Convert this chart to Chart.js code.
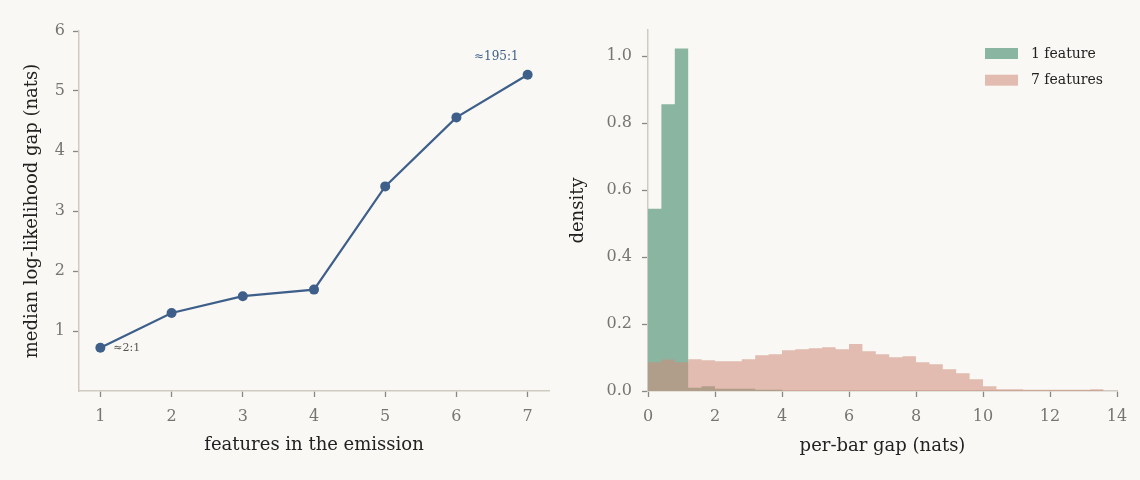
<!DOCTYPE html>
<html><head><meta charset="utf-8">
<script src="https://cdn.jsdelivr.net/npm/chart.js@4.4.0/dist/chart.umd.min.js"></script>
<style>
html,body{margin:0;padding:0;background:#f9f8f4;}
body{width:1140px;height:480px;position:relative;overflow:hidden;}
canvas{position:absolute;top:0;}
#c1{left:0;}
#c2{left:560px;}
</style></head><body>
<canvas id="c1" width="570" height="480"></canvas>
<canvas id="c2" width="580" height="480"></canvas>
<script>
// ---- left panel data ----
const features = [1, 2, 3, 4, 5, 6, 7];
const medianGap = [0.72, 1.30, 1.58, 1.69, 3.41, 4.56, 5.27];
const leftXTicks = [1, 2, 3, 4, 5, 6, 7];
const leftYTicks = [1, 2, 3, 4, 5, 6];
const oddsNotes = ['≈2:1', '', '', '', '', '', '≈195:1'];

// ---- right panel data (histogram bin edges and densities) ----
const binEdges = [0, 0.4, 0.8, 1.2, 1.6, 2.0, 2.4, 2.8, 3.2, 3.6, 4.0, 4.4, 4.8, 5.2, 5.6, 6.0, 6.4, 6.8,
  7.2, 7.6, 8.0, 8.4, 8.8, 9.2, 9.6, 10.0, 10.4, 10.8, 11.2, 11.6, 12.0, 12.4, 12.8, 13.2, 13.6];
const density1 = [0.544, 0.856, 1.023, 0.010, 0.014, 0.007, 0.007, 0.007, 0.004, 0.004, 0, 0, 0, 0, 0, 0, 0,
  0, 0, 0, 0, 0, 0, 0, 0, 0, 0, 0, 0, 0, 0, 0, 0, 0];
const density7 = [0.086, 0.094, 0.086, 0.095, 0.092, 0.089, 0.089, 0.095, 0.107, 0.110, 0.122, 0.125, 0.128,
  0.131, 0.125, 0.140, 0.119, 0.110, 0.101, 0.104, 0.086, 0.080, 0.065, 0.053, 0.035, 0.014, 0.005, 0.005,
  0.004, 0.004, 0.004, 0.004, 0.004, 0.005];
const rightXTicks = [0, 2, 4, 6, 8, 10, 12, 14];
const rightYTicks = [0, 0.2, 0.4, 0.6, 0.8, 1.0];
const seriesLabels = ['1 feature', '7 features'];

const FONT = '"DejaVu Serif", "Liberation Serif", serif';
const TICK_COLOR = '#777570';
const SPINE = '#cfcbc2';
const LINE_BLUE = '#3d5f8a';
const GREEN = '#8ab5a0';
const RED = 'rgba(207,139,120,0.55)';

function axisCommon(tickList, fmt, pad) {
  return {
    type: 'linear',
    offset: false,
    afterBuildTicks: (s) => { s.ticks = tickList.map(v => ({ value: v })); },
    ticks: { color: TICK_COLOR, font: { family: FONT, size: 16 }, padding: pad, callback: fmt, autoSkip: false, maxRotation: 0 },
    grid: { display: true, drawOnChartArea: false, drawTicks: true, tickLength: 6, tickColor: '#8a8883', tickWidth: 1.3 },
    border: { display: true, color: SPINE, width: 1.5 },
    z: 1
  };
}

// step-histogram points: one point per bin left edge, closing point at the last right edge
function histPoints(dens) {
  const pts = dens.map((d, i) => ({ x: binEdges[i], y: d }));
  pts.push({ x: binEdges[binEdges.length - 1], y: dens[dens.length - 1] });
  return pts;
}

Chart.defaults.animation = false;
Chart.defaults.font.family = FONT;

const notePlugin = {
  id: 'notes',
  afterDatasetsDraw(chart) {
    const ctx = chart.ctx;
    const xs = chart.scales.x, ys = chart.scales.y;
    ctx.save();
    oddsNotes.forEach((t, i) => {
      if (!t) return;
      const px = xs.getPixelForValue(features[i]);
      const py = ys.getPixelForValue(medianGap[i]);
      ctx.textBaseline = 'middle';
      if (i === 0) {
        ctx.font = '11px ' + FONT;
        ctx.fillStyle = '#555450';
        ctx.textAlign = 'left';
        ctx.fillText(t, px + 13, py);
      } else {
        ctx.font = '12px ' + FONT;
        ctx.fillStyle = LINE_BLUE;
        ctx.textAlign = 'right';
        ctx.fillText(t, px - 9, py - 18);
      }
    });
    ctx.restore();
  }
};

new Chart(document.getElementById('c1'), {
  type: 'line',
  data: {
    datasets: [{
      data: features.map((f, i) => ({ x: f, y: medianGap[i] })),
      borderColor: LINE_BLUE,
      backgroundColor: LINE_BLUE,
      borderWidth: 2.2,
      pointRadius: 5,
      pointBorderWidth: 0,
      pointBackgroundColor: LINE_BLUE,
      tension: 0,
      clip: false
    }]
  },
  options: {
    responsive: false,
    layout: { padding: { left: 0, right: 21, top: 31, bottom: 0 } },
    plugins: { legend: { display: false }, tooltip: { enabled: false } },
    scales: {
      x: Object.assign(axisCommon(leftXTicks, v => String(v), 10), {
        min: 0.7, max: 7.3,
        afterFit: (s) => { s.height = 89; },
        title: { display: true, text: 'features in the emission', color: '#222', font: { family: FONT, size: 18 }, padding: { top: 0, bottom: 24 } }
      }),
      y: Object.assign(axisCommon(leftYTicks, v => String(v), 8), {
        min: 0, max: 6,
        afterFit: (s) => { s.width = 79; },
        title: { display: true, text: 'median log-likelihood gap (nats)', color: '#222', font: { family: FONT, size: 18 }, padding: { top: 22, bottom: 0 } }
      })
    }
  },
  plugins: [notePlugin]
});

const legendPlugin = {
  id: 'histLegend',
  afterDraw(chart) {
    const ctx = chart.ctx;
    const ca = chart.chartArea;
    const order = [1, 0];
    ctx.save();
    order.forEach((di, row) => {
      const ds = chart.data.datasets[di];
      const bx = ca.right - 132;
      const by = ca.top + 18 + row * 26.7;
      ctx.fillStyle = ds.backgroundColor;
      ctx.fillRect(bx, by, 33, 11);
      ctx.fillStyle = '#222';
      ctx.font = '14px ' + FONT;
      ctx.textAlign = 'left';
      ctx.textBaseline = 'middle';
      ctx.fillText(ds.label, bx + 46, by + 6);
    });
    ctx.restore();
  }
};

const histStyle = { borderWidth: 0, pointRadius: 0, stepped: 'before', fill: 'origin', tension: 0 };

new Chart(document.getElementById('c2'), {
  type: 'line',
  data: {
    datasets: [
      Object.assign({
        label: seriesLabels[1],
        data: histPoints(density7),
        backgroundColor: RED,
        borderColor: RED,
        order: 1
      }, histStyle),
      Object.assign({
        label: seriesLabels[0],
        data: histPoints(density1),
        backgroundColor: GREEN,
        borderColor: GREEN,
        order: 2
      }, histStyle)
    ]
  },
  options: {
    responsive: false,
    layout: { padding: { left: 0, right: 23, top: 30, bottom: 0 } },
    plugins: { legend: { display: false }, tooltip: { enabled: false }, filler: { propagate: false } },
    scales: {
      x: Object.assign(axisCommon(rightXTicks, v => String(v), 10), {
        min: 0, max: 14,
        afterFit: (s) => { s.height = 89; },
        title: { display: true, text: 'per-bar gap (nats)', color: '#222', font: { family: FONT, size: 18 }, padding: { top: 0, bottom: 23 } }
      }),
      y: Object.assign(axisCommon(rightYTicks, v => v.toFixed(1), 10), {
        min: 0, max: 1.078,
        afterFit: (s) => { s.width = 88; },
        title: { display: true, text: 'density', color: '#222', font: { family: FONT, size: 18 }, padding: { top: 8, bottom: 0 } }
      })
    }
  },
  plugins: [legendPlugin]
});
</script>
</body></html>
